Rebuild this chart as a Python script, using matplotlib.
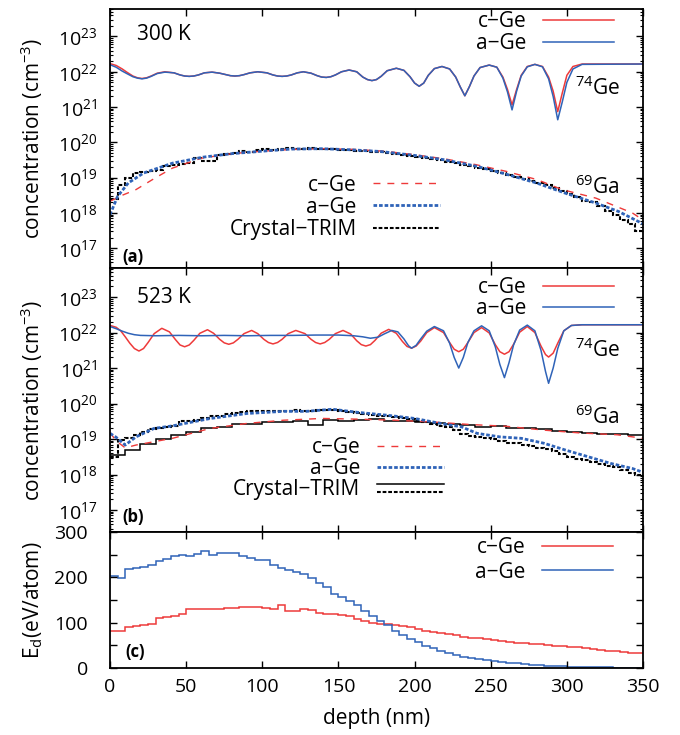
import numpy as np
import matplotlib
matplotlib.use('Agg')
import matplotlib.pyplot as plt
from matplotlib.lines import Line2D
from matplotlib.legend_handler import HandlerBase
from matplotlib.ticker import LogLocator, NullFormatter, MultipleLocator

plt.rcParams['font.family'] = ['Open Sans', 'DejaVu Sans']
plt.rcParams['mathtext.fontset'] = 'custom'
plt.rcParams['mathtext.rm'] = 'Open Sans'
plt.rcParams['mathtext.it'] = 'Open Sans:italic'
plt.rcParams['mathtext.bf'] = 'Open Sans:bold'

RED = '#ee3a3a'
BLUE = '#2f63b8'

# ---------------- data (log10 of concentration, cm^-3) ----------------
# (a) 300 K, 74Ge
xa_ge = [0, 4, 8, 11, 15, 18, 21, 24, 27, 31, 36,
         42, 46, 49, 52, 55, 58, 62, 67,
         72, 76, 79, 82, 85, 88, 92, 97,
         103, 107, 110, 113, 116, 119, 123, 127,
         132, 136, 139, 142, 145, 148, 152, 157,
         162, 166, 169, 172, 175, 178, 182, 188,
         193, 197, 200, 203, 206, 209, 213, 218,
         223, 227, 230, 233, 236, 239, 243, 249,
         254, 258, 261, 264, 267, 270, 274, 279,
         284, 288, 291, 294, 297, 300, 304, 310, 350]
a_ge_c = [22.23, 22.18, 22.08, 21.99, 21.88, 21.83, 21.81, 21.83, 21.88, 21.96, 22.00,
          21.97, 21.91, 21.88, 21.87, 21.88, 21.91, 21.97, 21.99,
          21.96, 21.92, 21.89, 21.88, 21.89, 21.92, 21.97, 22.00,
          21.97, 21.91, 21.88, 21.87, 21.88, 21.91, 21.97, 22.00,
          21.96, 21.89, 21.85, 21.84, 21.86, 21.91, 22.00, 22.05,
          22.00, 21.85, 21.78, 21.75, 21.78, 21.87, 22.03, 22.10,
          22.04, 21.86, 21.68, 21.59, 21.68, 21.90, 22.09, 22.15,
          22.08, 21.85, 21.57, 21.32, 21.58, 21.88, 22.12, 22.19,
          22.13, 21.85, 21.50, 21.06, 21.50, 21.90, 22.15, 22.21,
          22.15, 21.85, 21.45, 20.87, 21.40, 21.90, 22.15, 22.22, 22.22]
a_ge_a = [22.20, 22.13, 22.02, 21.95, 21.86, 21.82, 21.80, 21.82, 21.87, 21.95, 21.99,
          21.97, 21.91, 21.88, 21.87, 21.88, 21.91, 21.97, 21.99,
          21.96, 21.92, 21.89, 21.88, 21.89, 21.92, 21.97, 22.00,
          21.97, 21.91, 21.88, 21.87, 21.88, 21.91, 21.97, 22.00,
          21.96, 21.89, 21.85, 21.84, 21.86, 21.91, 22.00, 22.05,
          22.00, 21.85, 21.78, 21.75, 21.78, 21.87, 22.03, 22.10,
          22.04, 21.86, 21.68, 21.59, 21.68, 21.90, 22.09, 22.15,
          22.08, 21.85, 21.57, 21.32, 21.58, 21.88, 22.12, 22.19,
          22.13, 21.82, 21.43, 20.92, 21.45, 21.88, 22.14, 22.21,
          22.14, 21.80, 21.30, 20.64, 21.15, 21.70, 22.08, 22.21, 22.22]

# (a) 300 K, 69Ga
xa_ga_c = [0, 8, 17, 30, 41, 60, 80, 100, 120, 140, 160, 180, 200, 220, 240, 260,
           280, 297, 319, 343, 350]
a_ga_c = [18.33, 18.50, 18.66, 19.00, 19.27, 19.55, 19.68, 19.75, 19.80, 19.82,
          19.80, 19.75, 19.65, 19.53, 19.37, 19.18, 18.95, 18.66, 18.42, 18.00, 17.80]
xa_ga_a = [0, 5, 12, 22, 41, 61, 80, 100, 119, 139, 158, 178, 200, 219, 241, 260,
           280, 299, 319, 334, 350]
a_ga_a = [17.95, 18.47, 18.85, 19.13, 19.41, 19.58, 19.68, 19.75, 19.81, 19.82,
          19.79, 19.74, 19.63, 19.51, 19.32, 19.10, 18.85, 18.56, 18.28, 18.04, 17.69]
bins5 = np.arange(0, 355, 5)
bins10 = np.arange(0, 360, 10)
a_ga_trim = [18.40, 18.78, 18.98, 19.13, 19.15, 19.20, 19.22, 19.32, 19.35, 19.40,
             19.41, 19.56, 19.46, 19.48, 19.65, 19.68, 19.70, 19.75, 19.73, 19.78,
             19.80, 19.78, 19.80, 19.83, 19.80, 19.82, 19.83, 19.82, 19.81, 19.80,
             19.79, 19.78, 19.76, 19.75, 19.72, 19.72, 19.69, 19.67, 19.64, 19.62,
             19.58, 19.55, 19.52, 19.50, 19.45, 19.41, 19.37, 19.33, 19.28, 19.24,
             19.18, 19.13, 19.07, 19.02, 18.96, 18.90, 18.84, 18.78, 18.70, 18.62,
             18.55, 18.45, 18.35, 18.30, 18.20, 18.05, 17.95, 17.80, 17.70, 17.50]

# (b) 523 K, 74Ge
xb_ge_c = [0, 4, 7, 10, 13, 16, 19, 22, 25, 29, 34,
           39, 43, 46, 49, 52, 55, 59, 64,
           68, 72, 75, 78, 81, 84, 88, 93,
           97, 101, 104, 107, 110, 113, 117, 122,
           128, 132, 135, 138, 141, 144, 148, 153,
           158, 162, 165, 168, 171, 174, 178, 183,
           188, 192, 195, 198, 201, 204, 208, 213,
           219, 223, 226, 229, 232, 235, 239, 244,
           249, 253, 256, 259, 262, 265, 269, 274,
           279, 283, 286, 288, 291, 294, 298, 303, 310, 350]
b_ge_c = [22.20, 22.15, 22.05, 21.88, 21.70, 21.55, 21.48, 21.55, 21.72, 21.97, 22.12,
          22.02, 21.80, 21.65, 21.60, 21.65, 21.78, 21.98, 22.08,
          21.98, 21.81, 21.71, 21.67, 21.71, 21.81, 21.97, 22.06,
          21.97, 21.81, 21.72, 21.68, 21.72, 21.81, 21.97, 22.06,
          21.97, 21.81, 21.72, 21.68, 21.72, 21.81, 21.97, 22.06,
          21.96, 21.77, 21.66, 21.62, 21.66, 21.78, 21.98, 22.09,
          21.98, 21.75, 21.61, 21.56, 21.62, 21.76, 22.00, 22.14,
          22.00, 21.72, 21.53, 21.46, 21.53, 21.72, 22.00, 22.14,
          21.99, 21.66, 21.46, 21.39, 21.46, 21.67, 22.01, 22.17,
          22.00, 21.62, 21.38, 21.31, 21.42, 21.70, 22.05, 22.20, 22.22, 22.22]
xb_ge_a = [0, 4, 8, 12, 16, 20, 30, 45, 60, 75, 90, 105, 120, 135, 150, 160, 166,
           171, 176, 180, 185, 189, 193, 196, 198, 201, 204, 208, 213,
           219, 223, 226, 229, 232, 235, 239, 244,
           249, 253, 256, 259, 262, 265, 269, 274,
           279, 283, 286, 288, 291, 294, 298, 303, 310, 350]
b_ge_a = [22.17, 22.11, 22.04, 21.98, 21.94, 21.92, 21.91, 21.92, 21.91, 21.92,
          21.91, 21.92, 21.92, 21.93, 21.93, 21.91, 21.88, 21.84, 21.87, 21.96,
          22.06, 22.02, 21.82, 21.63, 21.56, 21.64, 21.82, 22.04, 22.17,
          22.05, 21.70, 21.30, 21.00, 21.30, 21.72, 22.05, 22.19,
          22.05, 21.60, 21.10, 20.73, 21.15, 21.65, 22.07, 22.21,
          22.05, 21.50, 20.90, 20.57, 21.00, 21.55, 22.05, 22.20, 22.22, 22.22]

# (b) 523 K, 69Ga
xb_ga_c = [0, 4, 10, 17, 41, 66, 90, 114, 139, 163, 187, 212, 236, 260, 285, 309, 333, 350]
b_ga_c = [19.18, 18.95, 18.75, 18.83, 19.02, 19.30, 19.44, 19.53, 19.58, 19.56,
          19.53, 19.48, 19.41, 19.36, 19.25, 19.17, 19.12, 19.02]
xb_ga_a = [0, 4, 10, 17, 29, 41, 54, 66, 78, 90, 102, 114, 129, 146, 163, 182, 200,
           217, 231, 241, 256, 270, 285, 299, 314, 329, 343, 350]
b_ga_a = [19.16, 19.05, 18.83, 19.06, 19.30, 19.37, 19.48, 19.58, 19.65, 19.72,
          19.75, 19.78, 19.78, 19.84, 19.75, 19.67, 19.58, 19.44, 19.34, 19.16,
          19.06, 19.02, 18.88, 18.69, 18.50, 18.31, 18.17, 18.06]
b_ga_trim_c = [18.55, 18.70, 18.85, 19.00, 19.10, 19.20, 19.30, 19.34, 19.43, 19.41,
               19.48, 19.48, 19.50, 19.40, 19.53, 19.51, 19.53, 19.56, 19.52, 19.50,
               19.47, 19.45, 19.41, 19.40, 19.34, 19.36, 19.31, 19.30, 19.28, 19.23,
               19.20, 19.18, 19.15, 19.13, 19.10]
b_ga_trim_a = [18.50, 18.98, 19.03, 19.12, 19.20, 19.28, 19.30, 19.33, 19.38, 19.50,
               19.52, 19.55, 19.60, 19.64, 19.66, 19.70, 19.72, 19.76, 19.80, 19.80,
               19.78, 19.78, 19.79, 19.80, 19.81, 19.79, 19.80, 19.81, 19.83, 19.82,
               19.78, 19.76, 19.74, 19.71, 19.68, 19.66, 19.64, 19.62, 19.60, 19.56,
               19.52, 19.47, 19.42, 19.38, 19.33, 19.25, 19.15, 19.08, 19.06, 19.04,
               19.00, 18.95, 18.90, 18.88, 18.84, 18.80, 18.75, 18.72, 18.65, 18.58,
               18.50, 18.45, 18.40, 18.35, 18.30, 18.25, 18.20, 18.12, 18.05, 17.98]

# (c) deposited energy E_d (eV/atom), 5 nm bins
ed_c = [81, 81, 91, 93, 95, 97, 111, 113, 115, 120,
        129, 129, 129, 129, 131, 132, 133, 134, 135, 135,
        133, 131, 138, 126, 126, 129, 127, 122, 120, 118,
        116, 115, 107, 104, 100, 96, 96, 94, 92, 90,
        85, 81, 79, 78, 75, 72, 68, 67, 66, 63,
        61, 60, 57, 56, 56, 52, 52, 50, 49, 49,
        47, 46, 44, 41, 40, 38, 37, 35, 34, 33]
ed_a = [203, 199, 218, 220, 223, 228, 235, 241, 248, 250,
        248, 252, 259, 250, 254, 254, 253, 246, 243, 238,
        238, 228, 221, 217, 212, 208, 199, 188, 179, 164,
        157, 147, 138, 125, 115, 103, 94, 81, 72, 65,
        57, 49, 43, 37, 32, 28, 24, 22, 19, 17,
        15, 13, 12, 10, 9, 7, 6, 5, 4.4, 3.7,
        3.0, 2.5, 2.0, 1.8, 1.5, 1.2, 1.0, 0.9, 0.8, 0.7]


def c(v):
    return 10.0 ** np.asarray(v)


# line styles
GE_KW_C = dict(color=RED, lw=1.1)
GE_KW_A = dict(color=BLUE, lw=1.1)
GA_KW_C = dict(color=RED, lw=1.0, ls=(0, (5, 5)))
GA_KW_A = dict(color=BLUE, lw=2.0, ls=(0, (1.3, 0.7)))
TRIM_KW_A = dict(color='black', lw=1.5, ls=(0, (1.8, 0.9)))
TRIM_KW_C = dict(color='black', lw=1.1, ls='-')
FS = 15       # legend / labels
FS_TICK = 14


class StackedLines(HandlerBase):
    # two handles drawn one above the other (Crystal-TRIM entry)
    def create_artists(self, legend, orig_handle, xdescent, ydescent, width,
                       height, fontsize, trans):
        out = []
        for h, f in zip(orig_handle, (0.75, 0.2)):
            y = height * f - ydescent
            ln = Line2D([-xdescent, width - xdescent], [y, y])
            ln.update_from(h)
            ln.set_transform(trans)
            out.append(ln)
        return out


def style_axis(ax):
    ax.set_xlim(0, 350)
    ax.xaxis.set_major_locator(MultipleLocator(50))
    ax.tick_params(which='both', direction='in', top=True, right=True)
    ax.tick_params(which='major', length=5, width=1, labelsize=FS_TICK)
    ax.tick_params(which='minor', length=2.5, width=0.8)
    for s in ax.spines.values():
        s.set_linewidth(1.3)


def log_axis(ax, ylim):
    ax.set_yscale('log')
    ax.set_ylim(*ylim)
    ax.set_yticks([10.0 ** k for k in range(17, 24)])
    ax.yaxis.set_minor_locator(LogLocator(base=10, subs=np.arange(2, 10), numticks=30))
    ax.yaxis.set_minor_formatter(NullFormatter())
    style_axis(ax)
    ax.tick_params(axis='x', labelbottom=False)
    ax.tick_params(axis='y', pad=9)
    ax.set_ylabel('concentration (cm$^{-3}$)', fontsize=FS)
    ax.yaxis.set_label_coords(-0.122, 0.5)


def key(ax, handles, labels, anchor, spacing, hlen=3.4, **kw):
    return ax.legend(handles, labels, loc='upper right', bbox_to_anchor=anchor,
                     frameon=False, markerfirst=False, handlelength=hlen,
                     handletextpad=0.8, borderpad=0, borderaxespad=0,
                     labelspacing=spacing, fontsize=FS, **kw)


fig = plt.figure(figsize=(6.8, 7.35), dpi=100)
ax_a = fig.add_axes([0.1618, 0.6354, 0.7838, 0.3524])
ax_b = fig.add_axes([0.1618, 0.2762, 0.7838, 0.3592])
ax_c = fig.add_axes([0.1618, 0.0912, 0.7838, 0.1850])

# ---------------- (a) ----------------
log_axis(ax_a, (10 ** 16.44, 10 ** 23.78))
l1, = ax_a.plot(xa_ge, c(a_ge_c), **GE_KW_C)
l2, = ax_a.plot(xa_ge, c(a_ge_a), **GE_KW_A)
ax_a.plot(xa_ga_c, c(a_ga_c), **GA_KW_C)
ax_a.plot(xa_ga_a, c(a_ga_a), **GA_KW_A)
ax_a.stairs(c(a_ga_trim), bins5, baseline=None, **TRIM_KW_A)

leg = key(ax_a, [l1, l2], ['c−Ge', 'a−Ge'], (0.946, 0.992), 0.05)
ax_a.add_artist(leg)
key(ax_a, [Line2D([], [], **GA_KW_C), Line2D([], [], **GA_KW_A), Line2D([], [], **TRIM_KW_A)],
    ['c−Ge', 'a−Ge', 'Crystal−TRIM'], (0.619, 0.36), 0.05, hlen=3.2)
ax_a.text(0.05, 0.90, '300 K', transform=ax_a.transAxes, fontsize=FS, va='center')
ax_a.text(0.873, 0.695, '$^{74}$Ge', transform=ax_a.transAxes, fontsize=FS, va='center')
ax_a.text(0.873, 0.313, '$^{69}$Ga', transform=ax_a.transAxes, fontsize=FS, va='center')
ax_a.text(0.024, 0.044, '(a)', transform=ax_a.transAxes, fontsize=12,
          fontweight='bold', va='center')

# ---------------- (b) ----------------
log_axis(ax_b, (10 ** 16.38, 10 ** 23.82))
m1, = ax_b.plot(xb_ge_c, c(b_ge_c), **GE_KW_C)
m2, = ax_b.plot(xb_ge_a, c(b_ge_a), **GE_KW_A)
ax_b.plot(xb_ga_c, c(b_ga_c), **GA_KW_C)
ax_b.plot(xb_ga_a, c(b_ga_a), **GA_KW_A)
ax_b.stairs(c(b_ga_trim_c), bins10, baseline=None, **TRIM_KW_C)
ax_b.stairs(c(b_ga_trim_a), bins5, baseline=None, **TRIM_KW_A)

leg = key(ax_b, [m1, m2], ['c−Ge', 'a−Ge'], (0.946, 0.966), 0.0)
ax_b.add_artist(leg)
trim_pair = (Line2D([], [], **TRIM_KW_C), Line2D([], [], **TRIM_KW_A))
key(ax_b, [Line2D([], [], **GA_KW_C), Line2D([], [], **GA_KW_A), trim_pair],
    ['c−Ge', 'a−Ge', 'Crystal−TRIM'], (0.626, 0.36), 0.0, hlen=3.2,
    handler_map={tuple: StackedLines()})
ax_b.text(0.05, 0.89, '523 K', transform=ax_b.transAxes, fontsize=FS, va='center')
ax_b.text(0.873, 0.69, '$^{74}$Ge', transform=ax_b.transAxes, fontsize=FS, va='center')
ax_b.text(0.873, 0.436, '$^{69}$Ga', transform=ax_b.transAxes, fontsize=FS, va='center')
ax_b.text(0.024, 0.058, '(b)', transform=ax_b.transAxes, fontsize=12,
          fontweight='bold', va='center')

# ---------------- (c) ----------------
style_axis(ax_c)
ax_c.set_ylim(0, 300)
ax_c.yaxis.set_major_locator(MultipleLocator(100))
ax_c.yaxis.set_minor_locator(MultipleLocator(50))
ax_c.tick_params(which='minor', length=5, width=1)
ax_c.tick_params(axis='y', pad=16)
ax_c.tick_params(axis='x', pad=7)
ax_c.stairs(ed_c, bins5, baseline=None, color=RED, lw=1.1)
ax_c.stairs(ed_a, bins5, baseline=None, color=BLUE, lw=1.1)
key(ax_c, [Line2D([], [], color=RED, lw=1.1), Line2D([], [], color=BLUE, lw=1.1)],
    ['c−Ge', 'a−Ge'], (0.943, 0.96), 0.15)
ax_c.text(0.028, 0.12, '(c)', transform=ax_c.transAxes, fontsize=12,
          fontweight='bold', va='center')
ax_c.set_ylabel('E$_\\mathrm{d}$(eV/atom)', fontsize=FS)
ax_c.yaxis.set_label_coords(-0.122, 0.5)
ax_c.set_xlabel('depth (nm)', fontsize=FS, labelpad=9)

fig.savefig('out.png', dpi=100)
